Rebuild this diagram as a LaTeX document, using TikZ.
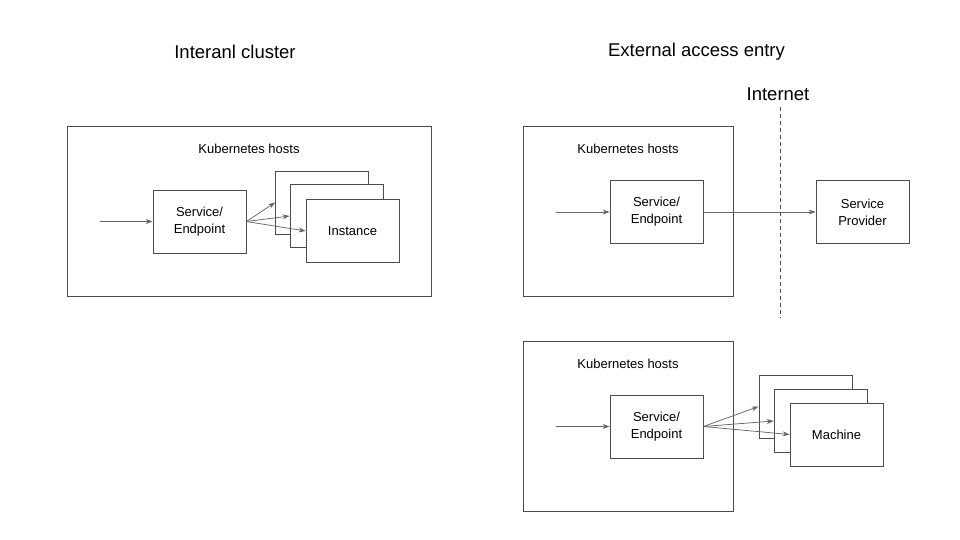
\documentclass[tikz,border=0pt]{standalone}
\usepackage{fontspec}
\setmainfont{Liberation Sans}
\usetikzlibrary{positioning, arrows.meta}

\begin{document}
\begin{tikzpicture}[
    x=1pt, y=-1pt,
    title/.style={font=\fontsize{18.5}{22}\selectfont},
    hostlabel/.style={font=\fontsize{13}{16}\selectfont},
    host/.style={draw=black!70, line width=0.75pt, minimum width=#1, minimum height=170pt},
    box/.style={draw=black!70, fill=white, line width=0.75pt, minimum width=93pt, minimum height=63pt, align=center, font=\fontsize{13}{17}\selectfont},
    link/.style={draw=black!60, line width=0.75pt, -{Stealth[length=7pt, width=5pt]}}
  ]

  \useasboundingbox (0,0) rectangle (960,540);

  % internal cluster
  \node[title] (t-int) at (235,52) {Interanl cluster};
  \node[host=364pt] (h-int) at (249,211) {};
  \node[hostlabel, below=15pt of h-int.north] {Kubernetes hosts};

  \node[box] (svc-int) at (199.5,221.5) {Service/\\Endpoint};
  \node[box] (inst1) at (322,202.5) {};
  \node[box] (inst2) at (336.5,216) {};
  \node[box] (inst3) at (352.5,231) {Instance};

  \coordinate (in-int) at (100,221.5);
  \draw[link] (in-int) -- (svc-int);
  \foreach \i in {1,2,3}
    \draw[link] (svc-int.east) -- (inst\i.west);

  % external access entry
  \node[title] (t-ext) at (696.5,52) {External access entry};
  \node[title] (inet) at (778,94) {Internet};
  \coordinate (cut-top) at (780,107);
  \coordinate (cut-bot) at (780,318);
  \draw[black!70, line width=0.75pt, dash pattern=on 4pt off 3pt] (cut-top) -- (cut-bot);

  \node[host=210pt] (h-ext) at (628,211) {};
  \node[hostlabel, below=15pt of h-ext.north] {Kubernetes hosts};
  \node[box] (svc-ext) at (656.5,212) {Service/\\Endpoint};
  \node[box] (provider) at (862.5,212) {Service\\Provider};

  \coordinate (in-ext) at (556,212);
  \draw[link] (in-ext) -- (svc-ext);
  \draw[link] (svc-ext) -- (provider);

  \node[host=210pt] (h-mach) at (628,426) {};
  \node[hostlabel, below=15pt of h-mach.north] {Kubernetes hosts};
  \node[box] (svc-mach) at (656.5,426.5) {Service/\\Endpoint};
  \node[box] (mach1) at (805.5,406.5) {};
  \node[box] (mach2) at (820.5,421) {};
  \node[box] (mach3) at (836.5,434.5) {Machine};

  \coordinate (in-mach) at (556,426.5);
  \draw[link] (in-mach) -- (svc-mach);
  \foreach \i in {1,2,3}
    \draw[link] (svc-mach.east) -- (mach\i.west);

\end{tikzpicture}
\end{document}
